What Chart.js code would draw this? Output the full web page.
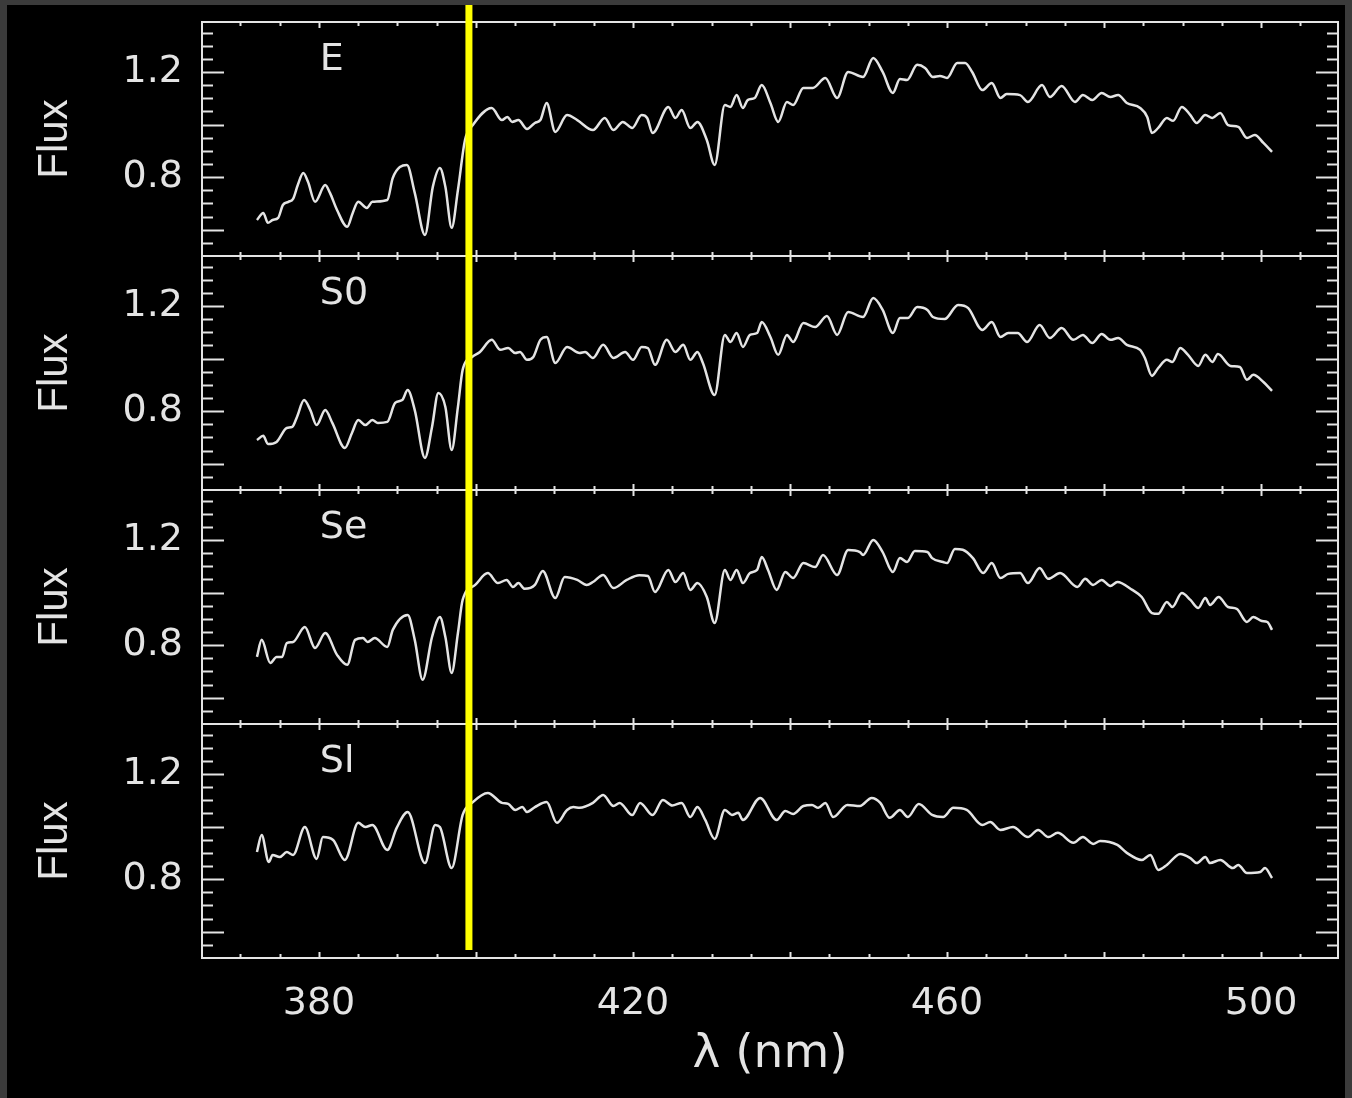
<!DOCTYPE html>
<html>
<head>
<meta charset="utf-8">
<title>Flux spectra by galaxy type</title>
<script src="https://cdn.jsdelivr.net/npm/chart.js@4.4.1/dist/chart.umd.min.js"></script>
<style>
  html, body { margin: 0; padding: 0; background: #3b3b3b; }
  canvas { display: block; }
</style>
</head>
<body>
<canvas id="spectra" width="1352" height="1098"></canvas>
<script>
const panelNames = ['E', 'S0', 'Se', 'Sl'];
const xTickValues = [380, 420, 460, 500];
const yTickValues = [0.8, 1.2];
const breakWave = 399.1; // yellow marker, nm

const waveE = [372.1, 372.9, 373.5, 374.1, 374.8, 375.4, 376.1, 376.7, 377.3, 378.0, 378.6, 379.5, 380.8, 381.4, 382.3, 383.6, 384.3, 385.0, 386.1, 386.8, 388.7, 389.4, 391.2, 392.2, 393.5, 394.5, 395.4, 396.1, 396.9, 397.7, 398.6, 399.6, 402.0, 403.3, 404.0, 404.6, 405.4, 406.5, 407.5, 408.2, 409.0, 410.1, 411.6, 412.9, 414.9, 416.4, 417.5, 418.7, 419.9, 421.1, 421.8, 422.5, 424.5, 425.4, 426.2, 427.3, 428.2, 429.4, 430.4, 431.7, 432.4, 433.2, 434.0, 434.6, 435.5, 436.4, 437.5, 438.5, 439.6, 440.4, 441.7, 442.9, 444.5, 446.0, 447.4, 449.3, 450.6, 451.8, 453.1, 454.0, 454.9, 456.2, 457.2, 458.2, 459.1, 460.0, 461.3, 462.3, 463.2, 464.5, 465.7, 466.8, 467.6, 469.3, 470.3, 472.1, 473.1, 474.6, 476.3, 477.3, 478.5, 479.7, 480.8, 481.8, 482.9, 484.6, 485.5, 486.1, 486.9, 488.0, 488.8, 489.9, 491.0, 491.8, 492.9, 493.8, 494.8, 495.8, 497.1, 498.2, 499.2, 500.3, 501.4];
const fluxE = [0.637, 0.664, 0.626, 0.637, 0.645, 0.694, 0.706, 0.717, 0.770, 0.816, 0.782, 0.706, 0.770, 0.740, 0.675, 0.611, 0.664, 0.706, 0.683, 0.706, 0.713, 0.797, 0.846, 0.740, 0.580, 0.763, 0.835, 0.763, 0.607, 0.751, 0.941, 0.998, 1.063, 1.017, 1.029, 1.010, 1.017, 0.983, 1.006, 1.017, 1.082, 0.972, 1.036, 1.017, 0.979, 1.025, 0.979, 1.010, 0.987, 1.036, 1.025, 0.968, 1.067, 1.025, 1.055, 0.987, 1.010, 0.941, 0.846, 1.074, 1.067, 1.112, 1.063, 1.093, 1.101, 1.150, 1.082, 1.010, 1.086, 1.074, 1.139, 1.139, 1.177, 1.101, 1.200, 1.181, 1.253, 1.200, 1.120, 1.173, 1.169, 1.227, 1.215, 1.181, 1.185, 1.177, 1.234, 1.234, 1.200, 1.131, 1.158, 1.101, 1.116, 1.112, 1.086, 1.150, 1.105, 1.147, 1.086, 1.112, 1.093, 1.120, 1.105, 1.112, 1.082, 1.063, 1.029, 0.968, 0.987, 1.025, 1.014, 1.067, 1.036, 1.006, 1.036, 1.025, 1.044, 0.998, 0.991, 0.949, 0.960, 0.930, 0.896];

const waveS0 = [372.1, 372.9, 373.5, 374.6, 375.9, 376.6, 377.2, 378.1, 378.9, 379.7, 380.8, 381.7, 383.3, 384.2, 385.0, 385.9, 386.8, 387.5, 388.7, 389.7, 390.6, 391.3, 392.2, 393.5, 394.4, 395.2, 396.1, 396.9, 397.7, 398.3, 399.5, 400.5, 402.0, 403.1, 404.1, 405.0, 405.6, 406.5, 407.3, 408.2, 409.0, 410.1, 411.6, 413.2, 413.9, 414.9, 416.2, 417.5, 419.0, 420.0, 421.1, 421.9, 422.8, 424.3, 425.4, 426.4, 427.3, 428.2, 428.9, 430.4, 431.7, 432.4, 433.2, 434.0, 434.9, 435.8, 436.4, 437.5, 438.5, 439.6, 440.4, 441.7, 443.2, 444.7, 446.0, 447.4, 449.3, 450.6, 451.8, 453.1, 454.0, 455.0, 456.2, 457.5, 458.2, 459.7, 461.4, 462.7, 464.5, 465.7, 466.8, 467.8, 469.0, 470.2, 471.8, 473.1, 474.6, 476.1, 477.3, 478.5, 479.7, 480.8, 481.8, 482.9, 484.6, 485.2, 486.1, 486.9, 488.0, 488.7, 489.7, 490.7, 492.0, 492.9, 493.8, 494.5, 496.1, 497.3, 498.2, 499.0, 500.3, 501.4];
const fluxS0 = [0.690, 0.706, 0.675, 0.683, 0.736, 0.740, 0.778, 0.842, 0.804, 0.747, 0.804, 0.755, 0.660, 0.717, 0.766, 0.747, 0.766, 0.755, 0.759, 0.831, 0.842, 0.880, 0.804, 0.622, 0.740, 0.869, 0.816, 0.652, 0.816, 0.957, 1.006, 1.025, 1.071, 1.033, 1.040, 1.021, 1.025, 0.995, 1.006, 1.071, 1.082, 0.983, 1.044, 1.021, 1.025, 1.002, 1.052, 1.002, 1.025, 0.995, 1.044, 1.040, 0.976, 1.071, 1.025, 1.052, 0.995, 1.025, 0.983, 0.861, 1.090, 1.063, 1.097, 1.044, 1.090, 1.097, 1.139, 1.082, 1.014, 1.090, 1.063, 1.135, 1.120, 1.162, 1.090, 1.177, 1.158, 1.230, 1.185, 1.097, 1.154, 1.154, 1.196, 1.185, 1.158, 1.150, 1.204, 1.192, 1.109, 1.139, 1.082, 1.097, 1.097, 1.063, 1.128, 1.078, 1.116, 1.071, 1.090, 1.059, 1.093, 1.071, 1.078, 1.052, 1.033, 1.002, 0.934, 0.964, 0.995, 0.987, 1.040, 1.014, 0.972, 1.014, 0.987, 1.017, 0.972, 0.968, 0.919, 0.938, 0.911, 0.877];

const waveSe = [372.1, 372.7, 373.8, 374.6, 375.3, 375.9, 376.7, 378.2, 379.5, 380.8, 382.3, 383.6, 384.6, 385.6, 386.2, 387.1, 388.7, 389.4, 391.3, 392.2, 393.2, 394.4, 395.4, 396.1, 396.9, 397.7, 398.3, 399.9, 401.5, 402.8, 403.9, 404.7, 405.4, 406.2, 407.5, 408.5, 410.1, 411.3, 412.9, 414.1, 414.9, 416.2, 417.5, 419.2, 420.8, 421.9, 422.8, 424.5, 425.4, 426.4, 427.3, 428.2, 429.4, 430.4, 431.7, 432.4, 433.2, 434.0, 434.9, 435.8, 436.4, 437.2, 438.3, 439.4, 440.4, 441.7, 443.2, 444.2, 446.0, 447.4, 448.9, 449.3, 450.6, 451.8, 453.1, 454.0, 454.9, 455.9, 457.5, 458.1, 459.5, 460.0, 461.0, 462.0, 463.3, 464.6, 465.7, 466.8, 467.8, 469.3, 470.3, 471.8, 472.9, 474.4, 476.6, 477.6, 478.6, 479.7, 480.8, 481.7, 483.6, 484.8, 486.1, 486.9, 488.0, 488.7, 489.9, 491.0, 492.0, 492.9, 493.5, 494.6, 495.8, 496.9, 498.2, 499.0, 500.1, 500.8, 501.4];
const fluxSe = [0.755, 0.820, 0.732, 0.755, 0.755, 0.808, 0.812, 0.869, 0.789, 0.846, 0.763, 0.725, 0.820, 0.827, 0.812, 0.827, 0.793, 0.858, 0.915, 0.820, 0.668, 0.831, 0.907, 0.831, 0.694, 0.846, 0.972, 1.029, 1.074, 1.036, 1.048, 1.021, 1.036, 1.014, 1.029, 1.082, 0.979, 1.059, 1.048, 1.029, 1.040, 1.067, 1.017, 1.048, 1.066, 1.063, 1.002, 1.086, 1.040, 1.074, 1.010, 1.036, 0.983, 0.884, 1.086, 1.048, 1.086, 1.036, 1.074, 1.086, 1.135, 1.086, 1.010, 1.078, 1.055, 1.112, 1.097, 1.143, 1.067, 1.162, 1.154, 1.143, 1.200, 1.154, 1.078, 1.131, 1.116, 1.158, 1.154, 1.131, 1.116, 1.112, 1.166, 1.163, 1.131, 1.074, 1.112, 1.055, 1.071, 1.074, 1.036, 1.093, 1.052, 1.074, 1.021, 1.052, 1.029, 1.048, 1.025, 1.040, 1.010, 0.983, 0.922, 0.919, 0.964, 0.945, 0.998, 0.972, 0.941, 0.979, 0.953, 0.983, 0.945, 0.938, 0.888, 0.907, 0.892, 0.888, 0.858];

const waveSl = [372.1, 372.7, 373.6, 374.1, 375.0, 375.9, 376.7, 378.2, 379.7, 380.5, 381.8, 383.3, 385.0, 385.9, 386.8, 388.7, 389.9, 391.3, 393.5, 394.8, 395.4, 396.9, 398.3, 399.6, 401.5, 403.3, 404.1, 405.0, 405.9, 406.5, 407.5, 409.0, 410.3, 411.6, 412.4, 413.2, 414.9, 416.2, 417.5, 418.3, 419.9, 420.9, 422.5, 423.8, 425.0, 426.2, 427.3, 428.2, 429.2, 430.4, 431.7, 432.6, 433.4, 434.0, 436.2, 438.3, 439.4, 440.4, 441.7, 442.8, 443.6, 444.5, 445.5, 447.3, 448.9, 450.4, 451.5, 452.7, 454.0, 455.0, 456.4, 458.1, 459.5, 460.8, 462.5, 464.5, 465.5, 466.8, 468.4, 470.3, 471.6, 472.9, 474.1, 476.1, 477.3, 478.6, 479.5, 481.7, 482.9, 484.8, 485.9, 486.9, 488.0, 489.7, 491.0, 491.8, 492.9, 493.5, 494.8, 496.4, 497.1, 498.2, 499.9, 500.5, 501.4];
const fluxSl = [0.903, 0.968, 0.865, 0.892, 0.884, 0.903, 0.892, 0.998, 0.877, 0.960, 0.949, 0.873, 1.014, 0.998, 1.006, 0.911, 0.995, 1.055, 0.861, 1.006, 0.998, 0.842, 1.044, 1.093, 1.128, 1.090, 1.086, 1.063, 1.074, 1.055, 1.074, 1.093, 1.014, 1.063, 1.074, 1.071, 1.090, 1.120, 1.078, 1.090, 1.044, 1.090, 1.044, 1.101, 1.080, 1.090, 1.036, 1.074, 1.025, 0.953, 1.063, 1.044, 1.052, 1.025, 1.109, 1.025, 1.059, 1.048, 1.078, 1.082, 1.071, 1.090, 1.036, 1.082, 1.078, 1.109, 1.090, 1.033, 1.063, 1.036, 1.086, 1.044, 1.036, 1.071, 1.063, 1.006, 1.017, 0.987, 0.998, 0.960, 0.987, 0.960, 0.976, 0.938, 0.960, 0.934, 0.945, 0.930, 0.900, 0.873, 0.892, 0.835, 0.854, 0.896, 0.880, 0.861, 0.884, 0.861, 0.873, 0.842, 0.854, 0.823, 0.827, 0.842, 0.804];

const INK = '#e4e4e4';
const FONT = "'DejaVu Sans', sans-serif";
const panelIds = ['yE', 'yS0', 'ySe', 'ySl'];
const waves = [waveE, waveS0, waveSe, waveSl];
const fluxes = [fluxE, fluxS0, fluxSe, fluxSl];

function noPadding(s) {
  s.paddingTop = 0; s.paddingBottom = 0; s.paddingLeft = 0; s.paddingRight = 0;
}

function panelScale(k) {
  return {
    type: 'linear',
    position: 'left',
    stack: 'panels',
    stackWeight: 1,
    weight: 4 - k, // top panel first
    min: 0.5,
    max: 1.39,
    grid: { display: false, drawTicks: false },
    border: { display: false },
    afterBuildTicks: s => { s.ticks = yTickValues.map(v => ({ value: v })); },
    ticks: { color: INK, font: { family: FONT, size: 38 }, padding: 19, callback: v => v.toFixed(1) },
    title: { display: true, text: 'Flux', color: INK, font: { family: "'Liberation Sans', sans-serif", size: 42 }, padding: { top: 30, bottom: 0 } },
    afterFit: s => { s.width = 202; noPadding(s); }
  };
}

// frame, inward ticks, panel names and the yellow marker
const idlFrame = {
  id: 'idlFrame',
  beforeDraw(chart) {
    const ctx = chart.ctx;
    ctx.save();
    ctx.fillStyle = '#3b3b3b';
    ctx.fillRect(0, 0, chart.width, chart.height);
    ctx.fillStyle = '#000000';
    ctx.fillRect(7, 5, chart.width - 14, chart.height - 5);
    ctx.restore();
  },
  afterDraw(chart) {
    const ctx = chart.ctx;
    const x = chart.scales.x;
    ctx.save();
    ctx.strokeStyle = INK;
    ctx.lineWidth = 2;
    panelIds.forEach((id, k) => {
      const y = chart.scales[id];
      ctx.strokeRect(x.left, y.top, x.right - x.left, y.bottom - y.top);
      ctx.beginPath();
      for (let i = 11; i * 0.05 < y.max; i++) {
        const py = Math.round(y.getPixelForValue(i * 0.05)) + 0.5;
        const len = i % 4 === 0 ? 22 : 11;
        ctx.moveTo(x.left, py); ctx.lineTo(x.left + len, py);
        ctx.moveTo(x.right, py); ctx.lineTo(x.right - len, py);
      }
      for (let nm = 370; nm < x.max; nm += 5) {
        const px = Math.round(x.getPixelForValue(nm)) + 0.5;
        const len = nm % 20 === 0 ? 6 : 4;
        ctx.moveTo(px, y.top); ctx.lineTo(px, y.top + len);
        ctx.moveTo(px, y.bottom); ctx.lineTo(px, y.bottom - len);
      }
      ctx.stroke();

      ctx.fillStyle = INK;
      ctx.font = '38px ' + FONT;
      ctx.textAlign = 'left';
      ctx.textBaseline = 'middle';
      ctx.fillText(panelNames[k], x.getPixelForValue(380.1), y.getPixelForValue(1.245));
    });

    const bx = x.getPixelForValue(breakWave);
    ctx.fillStyle = '#ffff00';
    ctx.fillRect(bx - 3.5, 5, 7, 945);
    ctx.restore();
  }
};

const datasets = panelNames.map((name, k) => ({
  label: name,
  data: waves[k].map((w, i) => ({ x: w, y: fluxes[k][i] })),
  yAxisID: panelIds[k],
  borderColor: INK,
  borderWidth: 2.5,
  pointRadius: 0,
  fill: false,
  cubicInterpolationMode: 'monotone'
}));

const scales = {
  x: {
    type: 'linear',
    position: 'bottom',
    min: 365.1,
    max: 509.8,
    grid: { display: false, drawTicks: false },
    border: { display: false },
    afterBuildTicks: s => { s.ticks = xTickValues.map(v => ({ value: v })); },
    ticks: { color: INK, font: { family: FONT, size: 38 }, padding: 23, maxRotation: 0, autoSkip: false, callback: v => String(v) },
    title: { display: true, text: 'λ (nm)', color: INK, font: { family: FONT, size: 47 }, padding: { top: 0, bottom: 15 } },
    afterFit: s => { s.height = 140; noPadding(s); }
  }
};
panelIds.forEach((id, k) => { scales[id] = panelScale(k); });

new Chart(document.getElementById('spectra'), {
  type: 'line',
  data: { datasets },
  options: {
    responsive: false,
    animation: false,
    layout: { padding: { top: 22, right: 14, bottom: 0, left: 0 } },
    plugins: { legend: { display: false }, tooltip: { enabled: false } },
    scales
  },
  plugins: [idlFrame]
});
</script>
</body>
</html>
